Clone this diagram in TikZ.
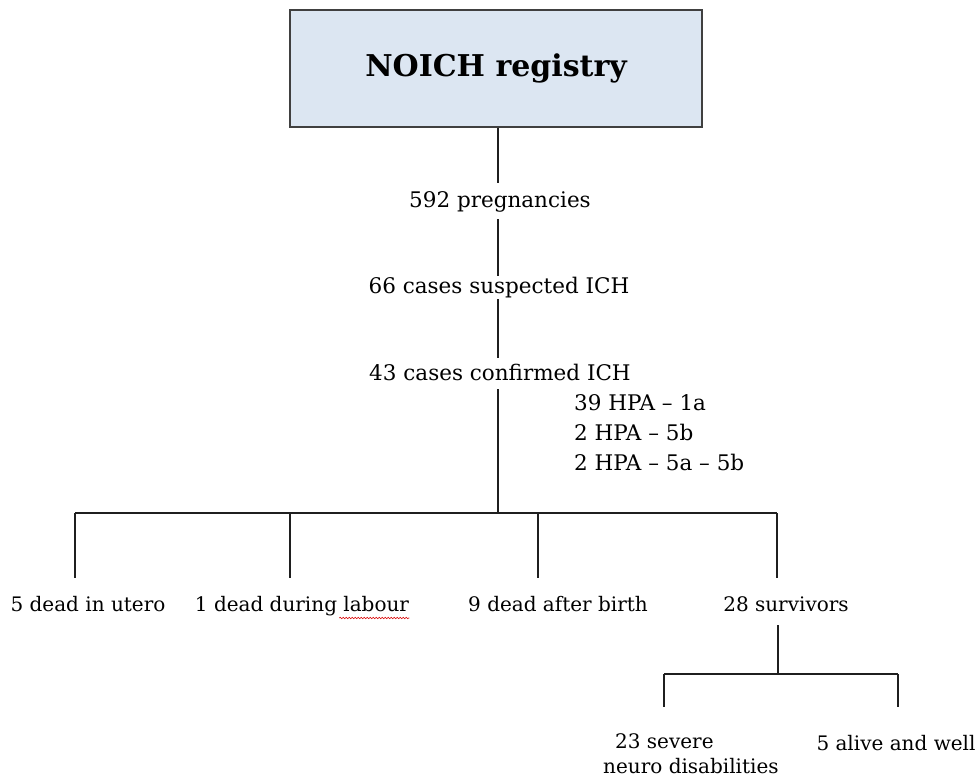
\documentclass[tikz,border=0pt]{standalone}
\usepackage{fontspec}
\setmainfont{DejaVu Serif}
\usetikzlibrary{decorations.pathmorphing,calc}
\definecolor{boxfill}{RGB}{220,230,242}
\definecolor{boxline}{RGB}{64,64,64}
\begin{document}
\begin{tikzpicture}[x=1pt,y=1pt,
  lbl/.style={font=\fontsize{20}{25}\selectfont, inner sep=0pt, anchor=base},
  biglbl/.style={lbl, font=\fontsize{21.5}{26}\selectfont},
  conn/.style={draw=black!88, line width=1.5pt}]
\useasboundingbox (0,0) rectangle (976,-778);

\node[draw=boxline, line width=1.3pt, fill=boxfill, minimum width=412pt, minimum height=117pt,
  font=\bfseries\fontsize{30}{36}\selectfont] (reg) at (496,-68.5) {NOICH registry};

\node[biglbl] (preg) at (500,-207) {592 pregnancies};
\node[biglbl] (susp) at (499,-293) {66 cases suspected ICH};
\node[biglbl] (conf) at (500,-380) {43 cases confirmed ICH};
\node[biglbl, anchor=base west] (h1) at (574,-410) {39 HPA – 1a};
\node[biglbl, anchor=base west] (h2) at (574,-440) {2 HPA – 5b};
\node[biglbl, anchor=base west] (h3) at (574,-470) {2 HPA – 5a – 5b};

\node[lbl] (utero) at (88,-611) {5 dead in utero};
\node[lbl] (labour) at (302,-611) {1 dead during labour};
\node[lbl] (birth) at (558,-611) {9 dead after birth};
\node[lbl] (surv) at (786,-611) {28 survivors};
\node[lbl, anchor=north west, align=left] (severe) at (603,-733) {\hspace{12pt}23 severe\\neuro disabilities};
\node[lbl] (well) at (896,-750) {5 alive and well};

% main trunk
\coordinate (a1) at (498,-183);
\coordinate (a2) at (498,-219);
\coordinate (a3) at (498,-276);
\coordinate (a4) at (498,-299);
\coordinate (a5) at (498,-358);
\coordinate (a6) at (498,-389);
\coordinate (bar) at (498,-513);
\draw[conn] (reg.south -| a1) -- (a1);
\draw[conn] (a2) -- (a3);
\draw[conn] (a4) -- (a5);
\draw[conn] (a6) -- (bar);

% first branching
\coordinate (b1) at (75,-513);
\coordinate (b2) at (290,-513);
\coordinate (b3) at (538,-513);
\coordinate (b4) at (777,-513);
\draw[conn] (b1) -- (b4);
\draw[conn] (b1) -- (75,-578) coordinate (e1);
\draw[conn] (b2) -- (290,-578) coordinate (e2);
\draw[conn] (b3) -- (538,-578) coordinate (e3);
\draw[conn] (b4) -- (777,-578) coordinate (e4);

% second branching
\coordinate (c0) at (778,-625);
\coordinate (c1) at (778,-674);
\coordinate (c2) at (664,-674);
\coordinate (c3) at (898,-674);
\draw[conn] (c0) -- (c1);
\draw[conn] (c2) -- (c3);
\draw[conn] (c2) -- (664,-707) coordinate (f1);
\draw[conn] (c3) -- (898,-707) coordinate (f2);

% spell-check squiggle
\draw[red!85!black, line width=0.6pt, decorate, decoration={snake, amplitude=0.7pt, segment length=3pt}]
  ($(labour.base east)+(-70,-7)$) -- ($(labour.base east)+(0,-7)$);
\end{tikzpicture}
\end{document}
